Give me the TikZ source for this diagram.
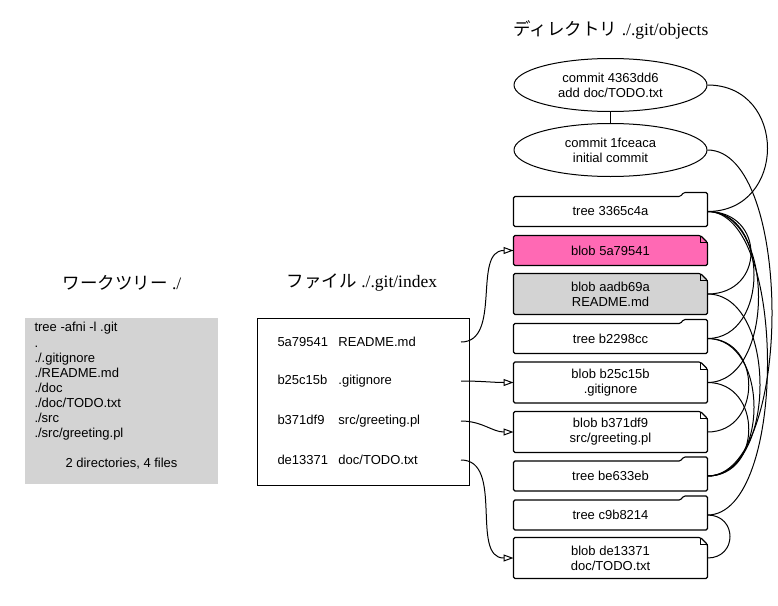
\documentclass[tikz,border=0pt]{standalone}
\usepackage{fontspec}
\setmainfont{Liberation Serif}
\setsansfont{Liberation Sans}
\newfontfamily\jpfont{Noto Sans CJK JP}
\usetikzlibrary{arrows.meta,shapes.geometric,backgrounds,calc}
\definecolor{blobpink}{HTML}{FF69B4}
\definecolor{boxgray}{HTML}{D3D3D3}
\newcommand{\jp}[1]{{\jpfont #1}}
\tikzset{
  every picture/.style={line width=1pt},
  obj/.style={minimum width=193pt, minimum height=29pt, inner sep=0pt, align=center,
    font=\sffamily\fontsize{13}{15}\selectfont},
  obj2/.style={obj, minimum height=40pt},
  commit/.style={obj, ellipse, draw, minimum height=53pt},
  title/.style={font=\fontsize{17.5}{20}\selectfont},
  row/.style={anchor=west, inner sep=0pt, text width=183pt,
    font=\sffamily\fontsize{13}{15}\selectfont},
  idxarrow/.style={-{Triangle[open,length=10pt,width=7pt]}},
  objline/.style={line width=1.1pt, rounded corners=1.5pt}
}

\begin{document}
\begin{tikzpicture}[x=1pt, y=-1pt]
    \useasboundingbox (0,0) rectangle (778,605);
    % Titles
    \node[title] (twt)  at (122,283) {\jp{ワークツリー} ./};
    \node[title] (tidx) at (362,283) {\jp{ファイル} ./.git/index};
    \node[title] (tobj) at (611,30)  {\jp{ディレクトリ} ./.git/objects};
    % Work tree
    \node[fill=boxgray, minimum width=193pt, minimum height=166pt] (wt) at (121.5,401) {};
    \node[anchor=north west, inner sep=0pt, align=left,
      font=\sffamily\fontsize{13}{15.1}\selectfont] (wtlist) at (34,322)
      {tree -afni -l .git\\.\\./.gitignore\\./README.md\\./doc\\./doc/TODO.txt\\./src\\./src/greeting.pl};
    \node[font=\sffamily\fontsize{13}{15}\selectfont] (wtsum) at (121.5,464) {2 directories, 4 files};
    % Index
    \node[draw, minimum width=212pt, minimum height=167pt] (idx) at (363,401.5) {};
    \node[row] (r1) at (277,342) {\makebox[61pt][l]{5a79541}README.md};
    \node[row] (r2) at (277,381) {\makebox[61pt][l]{b25c15b}.gitignore};
    \node[row] (r3) at (277,421) {\makebox[61pt][l]{b371df9}src/greeting.pl};
    \node[row] (r4) at (277,460) {\makebox[61pt][l]{de13371}doc/TODO.txt};
    % Objects
    \node[commit] (c1) at (610.5,85)  {commit 4363dd6\\add doc/TODO.txt};
    \node[commit] (c2) at (610.5,150) {commit 1fceaca\\initial commit};
    \node[obj]  (t3365) at (610.5,211.5) {tree 3365c4a};
    \node[obj]  (b5a79) at (610.5,250.5) {blob 5a79541};
    \node[obj2] (baadb) at (610.5,294)   {blob aadb69a\\README.md};
    \node[obj]  (tb229) at (610.5,338.5) {tree b2298cc};
    \node[obj2] (bb25c) at (610.5,382.5) {blob b25c15b\\.gitignore};
    \node[obj2] (bb371) at (610.5,432)   {blob b371df9\\src/greeting.pl};
    \node[obj]  (tbe63) at (610.5,476)   {tree be633eb};
    \node[obj]  (tc9b8) at (610.5,515)   {tree c9b8214};
    \node[obj2] (bde13) at (610.5,558)   {blob de13371\\doc/TODO.txt};
    \begin{scope}[on background layer]
      % folders
      \foreach \n in {t3365,tb229,tbe63,tc9b8}
        \draw[objline, fill=white] (\n.south west) -- (\n.north west)
          -- ($(\n.north east)+(-27,0)$) -- ($(\n.north east)+(-24,-4)$)
          -- ($(\n.north east)+(0,-4)$) -- (\n.south east) -- cycle;
      % notes
      \foreach \n/\c in {b5a79/blobpink,baadb/boxgray,bb25c/white,bb371/white,bde13/white} {
        \draw[objline, fill=\c] (\n.south west) -- (\n.north west)
          -- ($(\n.north east)+(-7,0)$) -- ($(\n.north east)+(0,7)$)
          -- (\n.south east) -- cycle;
        \draw[line width=0.8pt] ($(\n.north east)+(-7,0)$) -- ($(\n.north east)+(-7,7)$)
          -- ($(\n.north east)+(0,7)$);
      }
    \end{scope}
    % Links between objects
    \draw (c1) -- (c2);
    \foreach \a/\b/\d in {c1/t3365/80, c2/tbe63/86, t3365/baadb/58, t3365/bb25c/68,
        t3365/tb229/62, t3365/tc9b8/80, tbe63/baadb/70, tbe63/bb25c/55,
        tbe63/tb229/62, tb229/bb371/55, tc9b8/bde13/30}
      \draw (\a.east) to[out=0, in=0, distance=\d pt] (\b.east);
    % Index entries
    \draw[idxarrow] (r1.east) to[out=0, in=180] (b5a79.west);
    \draw[idxarrow] (r2.east) to[out=0, in=180] (bb25c.west);
    \draw[idxarrow] (r3.east) to[out=0, in=180] (bb371.west);
    \draw[idxarrow] (r4.east) to[out=0, in=180] (bde13.west);
\end{tikzpicture}
\end{document}
